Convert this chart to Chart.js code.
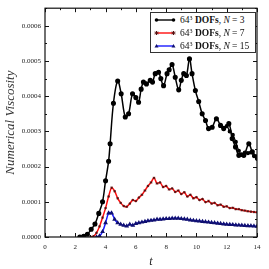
<!DOCTYPE html>
<html>
<head>
<meta charset="utf-8">
<script src="https://cdn.jsdelivr.net/npm/chart.js@4"></script>
<style>
  body { margin: 0; background: #fff; }
  #wrap { position: relative; width: 269px; height: 269px; }
  #legend {
    position: absolute; left: 150px; top: 12px; width: 106px; height: 41px;
    border: 1px solid #333; background: #fff; box-sizing: border-box;
    font-family: 'Liberation Serif', serif; font-size: 9.5px; color: #111;
  }
  .row { position: absolute; left: 3px; height: 12px; line-height: 12px; white-space: nowrap; }
  .row canvas { position: absolute; left: 0; top: 2px; }
  .txt { position: absolute; left: 26px; top: 0; }
  .sup { font-size: 6px; position: relative; top: -3px; line-height: 0; }
</style>
</head>
<body>
<div id="wrap">
  <canvas id="chartVisc" width="269" height="269"></canvas>
  <div id="legend"></div>
</div>
<script>
  // viscosity values in units of 1e-4
  const tN3 = [2.3, 2.55, 2.8, 3.05, 3.3, 3.55, 3.8, 4.0, 4.2, 4.3, 4.52, 4.8, 5.03, 5.3, 5.52,
    5.78, 6.0, 6.18, 6.35, 6.5, 6.7, 6.95, 7.1, 7.28, 7.5, 7.65, 7.83, 8.06, 8.2, 8.39,
    8.6, 8.83, 9.0, 9.16, 9.34, 9.54, 9.71, 9.93, 10.15, 10.38, 10.6, 10.8, 11.04, 11.32, 11.59,
    11.8, 12.14, 12.36, 12.58, 12.8, 13.13, 13.46, 13.69, 14.0];
  const viscN3 = [0, 0.02, 0.08, 0.22, 0.37, 0.67, 1.0, 1.6, 2.15, 2.65, 3.8, 4.43, 4.07, 3.41, 3.5,
    4.07, 3.96, 3.83, 4.2, 4.4, 4.35, 4.45, 4.4, 4.64, 4.68, 4.5, 4.3, 4.64, 4.75, 4.9,
    4.54, 4.18, 4.45, 4.64, 4.59, 5.06, 4.64, 4.16, 3.85, 3.5, 3.31, 3.08, 3.12, 3.36, 3.17,
    3.08, 3.22, 2.8, 2.56, 2.32, 2.32, 2.65, 2.42, 2.28];
  // second N=3 run that splits off near the end
  const tN3b = [11.8, 12.0, 12.2, 12.4, 12.6, 12.8, 13.0, 13.2, 13.4, 13.6, 13.8, 14.0];
  const viscN3b = [3.1, 3.15, 3.0, 2.9, 2.7, 2.45, 2.35, 2.4, 2.38, 2.4, 2.3, 2.22];

  const tN7 = [3.0, 3.2, 3.4, 3.6, 3.8, 4.0, 4.2, 4.4, 4.6, 4.8, 5.0, 5.2, 5.4, 5.6, 5.8,
    6.0, 6.2, 6.4, 6.6, 6.8, 7.0, 7.2, 7.4, 7.6, 7.8, 8.0, 8.2, 8.4, 8.6, 8.8,
    9.0, 9.2, 9.4, 9.6, 9.8, 10.0, 10.2, 10.4, 10.6, 10.8, 11.0, 11.2, 11.4, 11.6, 11.8,
    12.0, 12.2, 12.4, 12.6, 12.8, 13.0, 13.2, 13.4, 13.6, 13.8, 14.0];
  const viscN7 = [0, 0.02, 0.12, 0.3, 0.55, 0.82, 1.15, 1.4, 1.3, 1.1, 0.97, 0.88, 0.86, 0.95, 1.05,
    1.02, 1.12, 1.2, 1.32, 1.45, 1.55, 1.68, 1.52, 1.55, 1.42, 1.45, 1.35, 1.38, 1.28, 1.32,
    1.22, 1.27, 1.15, 1.2, 1.1, 1.13, 1.05, 1.08, 0.99, 1.02, 0.95, 0.97, 0.9, 0.92, 0.86,
    0.87, 0.82, 0.83, 0.79, 0.79, 0.76, 0.75, 0.73, 0.72, 0.71, 0.7];

  const tN15 = [3.4, 3.6, 3.8, 4.0, 4.2, 4.4, 4.6, 4.8, 5.0, 5.2, 5.4, 5.6, 5.8,
    6.0, 6.2, 6.4, 6.6, 6.8, 7.0, 7.2, 7.4, 7.6, 7.8, 8.0, 8.2, 8.4, 8.6, 8.8,
    9.0, 9.2, 9.4, 9.6, 9.8, 10.0, 10.2, 10.4, 10.6, 10.8, 11.0, 11.2, 11.4, 11.6, 11.8,
    12.0, 12.2, 12.4, 12.6, 12.8, 13.0, 13.2, 13.4, 13.6, 13.8, 14.0];
  const viscN15 = [0, 0.03, 0.15, 0.4, 0.68, 0.68, 0.5, 0.4, 0.36, 0.33, 0.31, 0.36, 0.33,
    0.38, 0.4, 0.42, 0.44, 0.46, 0.47, 0.48, 0.5, 0.5, 0.51, 0.52, 0.52, 0.53, 0.53, 0.53,
    0.52, 0.51, 0.5, 0.48, 0.47, 0.46, 0.45, 0.44, 0.43, 0.42, 0.41, 0.4, 0.39, 0.38, 0.37,
    0.36, 0.355, 0.35, 0.34, 0.335, 0.33, 0.325, 0.32, 0.315, 0.31, 0.305];

  const legendLabels = ['3', '7', '15'];
  const serif = "'Liberation Serif', serif";

  const pts = (ts, vs) => ts.map((t, i) => ({ x: t, y: vs[i] }));

  const series = [
    { label: 'N = 3', data: pts(tN3, viscN3), borderColor: '#000', borderWidth: 1.5,
      pointStyle: 'circle', pointRadius: 1.8, pointBackgroundColor: '#000', pointBorderColor: '#000', tension: 0.35 },
    { label: '', data: pts(tN3b, viscN3b), borderColor: '#000', borderWidth: 1.2,
      pointStyle: 'circle', pointRadius: 1.5, pointBackgroundColor: '#000', pointBorderColor: '#000', tension: 0.35 },
    { label: 'N = 7', data: pts(tN7, viscN7), borderColor: '#ff0d0d', borderWidth: 1.5,
      pointStyle: 'star', pointRadius: 1.3, pointBorderColor: '#551010', pointBorderWidth: 0.8, tension: 0.3 },
    { label: 'N = 15', data: pts(tN15, viscN15), borderColor: '#1a1aff', borderWidth: 1.5,
      pointStyle: 'triangle', pointRadius: 1.3, pointBackgroundColor: '#101070', pointBorderColor: '#101070', tension: 0.3 }
  ];

  // inward ticks + frame, matplotlib style
  const frame = {
    id: 'frame',
    afterDraw(chart) {
      const { ctx, chartArea: a, scales: { x, y } } = chart;
      ctx.save();
      ctx.strokeStyle = '#111';
      ctx.lineWidth = 1;
      for (let t = 0; t <= 14; t++) {
        const px = Math.round(x.getPixelForValue(t)) + 0.5;
        const len = t % 2 === 0 ? 4 : 2;
        ctx.beginPath();
        ctx.moveTo(px, a.bottom); ctx.lineTo(px, a.bottom - len);
        ctx.moveTo(px, a.top); ctx.lineTo(px, a.top + len);
        ctx.stroke();
      }
      for (let v = 0; v <= 6.5; v += 0.5) {
        const py = Math.round(y.getPixelForValue(v)) + 0.5;
        const len = v % 1 === 0 ? 4 : 2;
        ctx.beginPath();
        ctx.moveTo(a.left, py); ctx.lineTo(a.left + len, py);
        ctx.moveTo(a.right, py); ctx.lineTo(a.right - len, py);
        ctx.stroke();
      }
      ctx.lineWidth = 1.2;
      ctx.strokeRect(a.left, a.top, a.right - a.left, a.bottom - a.top);
      ctx.restore();
    }
  };

  const ctxVisc = document.getElementById('chartVisc').getContext('2d');
  new Chart(ctxVisc, {
    type: 'line',
    data: { datasets: series },
    options: {
      responsive: false,
      animation: false,
      layout: { padding: { top: 7, right: 12, left: 0, bottom: 0 } },
      plugins: { legend: { display: false }, tooltip: { enabled: false } },
      scales: {
        x: {
          type: 'linear', min: 0, max: 14,
          afterFit: s => { s.height = 32; },
          grid: { display: false, drawTicks: false },
          border: { display: false },
          ticks: { stepSize: 2, padding: 6, color: '#222', font: { family: serif, size: 7 } },
          title: { display: true, text: 't', color: '#222', padding: { top: 0, bottom: 0 },
            font: { family: serif, size: 12, style: 'italic' } }
        },
        y: {
          type: 'linear', min: 0, max: 6.5,
          afterFit: s => { s.width = 45; },
          grid: { display: false, drawTicks: false },
          border: { display: false },
          ticks: { stepSize: 1, includeBounds: false, padding: 4, color: '#222',
            font: { family: serif, size: 7 },
            callback: v => (v * 1e-4).toFixed(4) },
          title: { display: true, text: 'Numerical Viscosity', color: '#333', padding: { top: 3, bottom: 0 },
            font: { family: serif, size: 13, style: 'italic' } }
        }
      }
    },
    plugins: [frame]
  });

  // legend with mixed font styles
  const legendMarks = [
    { color: '#000', style: 'circle', mark: '#000' },
    { color: '#ff0d0d', style: 'star', mark: '#551010' },
    { color: '#1a1aff', style: 'triangle', mark: '#101070' }
  ];
  const legend = document.getElementById('legend');
  legendLabels.forEach((n, i) => {
    const row = document.createElement('div');
    row.className = 'row';
    row.style.top = (1 + i * 12.8) + 'px';
    const c = document.createElement('canvas');
    c.width = 22; c.height = 8;
    const g = c.getContext('2d');
    const m = legendMarks[i];
    g.strokeStyle = m.color; g.lineWidth = 1.4;
    g.beginPath(); g.moveTo(2, 4); g.lineTo(20, 4); g.stroke();
    [2.5, 19.5].forEach(px => {
      g.fillStyle = m.mark; g.strokeStyle = m.mark; g.lineWidth = 1;
      if (m.style === 'circle') { g.beginPath(); g.arc(px, 4, 1.8, 0, Math.PI * 2); g.fill(); }
      else if (m.style === 'triangle') { g.beginPath(); g.moveTo(px, 2); g.lineTo(px + 2, 5.5); g.lineTo(px - 2, 5.5); g.closePath(); g.fill(); }
      else { g.beginPath(); g.moveTo(px - 2, 4); g.lineTo(px + 2, 4); g.moveTo(px, 2); g.lineTo(px, 6); g.moveTo(px - 1.4, 2.6); g.lineTo(px + 1.4, 5.4); g.moveTo(px + 1.4, 2.6); g.lineTo(px - 1.4, 5.4); g.stroke(); }
    });
    row.appendChild(c);
    const s = document.createElement('span');
    s.className = 'txt';
    s.innerHTML = '64<span class="sup">3</span> <b>DOFs</b>, <i>N</i> = ' + n;
    row.appendChild(s);
    legend.appendChild(row);
  });
</script>
</body>
</html>
